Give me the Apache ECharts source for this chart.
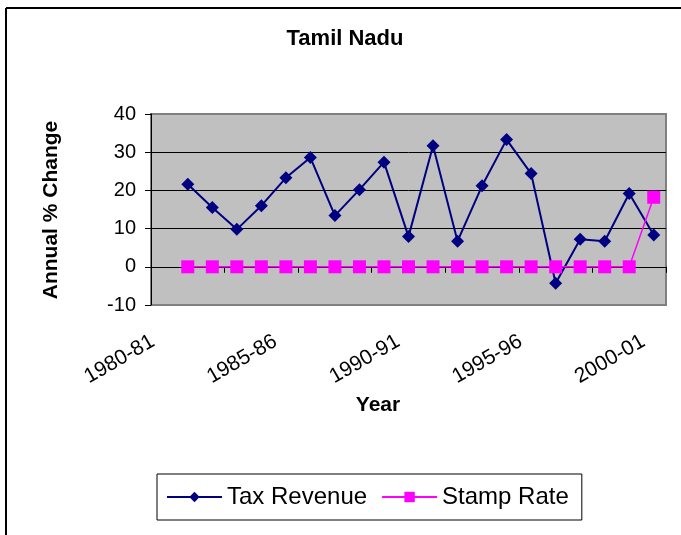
<!DOCTYPE html>
<html>
<head>
<meta charset="utf-8">
<script src="https://cdn.jsdelivr.net/npm/echarts@6/dist/echarts.min.js"></script>
<style>
html,body{margin:0;padding:0;background:#fff;}
#chart{width:681px;height:535px;}
</style>
</head>
<body>
<div id="chart"></div>
<script>
const categories = ['1980-81','1981-82','1982-83','1983-84','1984-85','1985-86','1986-87','1987-88','1988-89','1989-90','1990-91','1991-92','1992-93','1993-94','1994-95','1995-96','1996-97','1997-98','1998-99','1999-00','2000-01'];
const taxRevenue = [null, 21.6, 15.5, 9.8, 16.0, 23.3, 28.6, 13.4, 20.2, 27.4, 7.9, 31.7, 6.7, 21.2, 33.3, 24.4, -4.3, 7.2, 6.7, 19.2, 8.3];
const stampRate = [null, 0, 0, 0, 0, 0, 0, 0, 0, 0, 0, 0, 0, 0, 0, 0, 0, 0, 0, 0, 18.2];
const yTicks = {min: -10, max: 40, interval: 10};

const chart = echarts.init(document.getElementById('chart'), null, {renderer: 'canvas'});
const font = 'Arial, "Liberation Sans", sans-serif';
chart.setOption({
  animation: false,
  backgroundColor: '#ffffff',
  textStyle: {fontFamily: font},
  grid: {left: 151, right: 15, top: 114, bottom: 230, show: true, backgroundColor: '#C0C0C0', borderColor: '#808080', borderWidth: 2},
  xAxis: [{
    type: 'category', data: categories, boundaryGap: true, position: 'bottom',
    axisLine: {show: false, onZero: false}, axisTick: {show: false},
    axisLabel: {interval: 4, rotate: 30, fontSize: 21, color: '#000', margin: 29, fontFamily: font, padding: [0, 12, 0, 0]},
    splitLine: {show: false}
  }, {
    type: 'category', data: categories, boundaryGap: true, position: 'bottom',
    axisLine: {show: true, onZero: true, lineStyle: {color: '#000', width: 1}},
    axisTick: {show: true, length: 6, lineStyle: {color: '#000'}},
    axisLabel: {show: false}, splitLine: {show: false}
  }],
  yAxis: {
    type: 'value', min: yTicks.min, max: yTicks.max, interval: yTicks.interval,
    axisLine: {show: true, lineStyle: {color: '#000', width: 1}},
    axisTick: {show: true, length: 6, lineStyle: {color: '#000'}},
    axisLabel: {fontSize: 20, color: '#000', margin: 15, fontFamily: font},
    splitLine: {show: true, showMinLine: false, showMaxLine: false, lineStyle: {color: '#000', width: 1}}
  },
  legend: {
    left: 157, top: 474, orient: 'horizontal',
    padding: [11, 13, 11, 9], itemGap: 14, itemWidth: 55, itemHeight: 13,
    borderColor: '#000', borderWidth: 1, backgroundColor: '#fff',
    textStyle: {fontSize: 24, color: '#000', fontFamily: font},
    data: ['Tax Revenue', 'Stamp Rate']
  },
  series: [{
    name: 'Tax Revenue', type: 'line', data: taxRevenue,
    symbol: 'diamond', symbolSize: 13,
    lineStyle: {color: '#000080', width: 2},
    itemStyle: {color: '#000080'}, z: 3
  }, {
    name: 'Stamp Rate', type: 'line', data: stampRate,
    symbol: 'rect', symbolSize: 13,
    lineStyle: {color: '#FF00FF', width: 1.5},
    itemStyle: {color: '#FF00FF'}, z: 4
  }],
  graphic: [
    {type: 'text', x: 345, y: 39, style: {text: 'Tamil Nadu', font: 'bold 22px ' + font, fill: '#000', align: 'center', verticalAlign: 'middle'}},
    {type: 'text', x: 51, y: 210, rotation: Math.PI / 2, style: {text: 'Annual % Change', font: 'bold 21px ' + font, fill: '#000', align: 'center', verticalAlign: 'middle'}},
    {type: 'text', x: 378, y: 405, style: {text: 'Year', font: 'bold 21px ' + font, fill: '#000', align: 'center', verticalAlign: 'middle'}},
    {type: 'line', shape: {x1: 6, y1: 8, x2: 681, y2: 8}, style: {stroke: '#000', lineWidth: 2}},
    {type: 'line', shape: {x1: 6, y1: 8, x2: 6, y2: 535}, style: {stroke: '#000', lineWidth: 2}}
  ]
});
</script>
</body>
</html>
